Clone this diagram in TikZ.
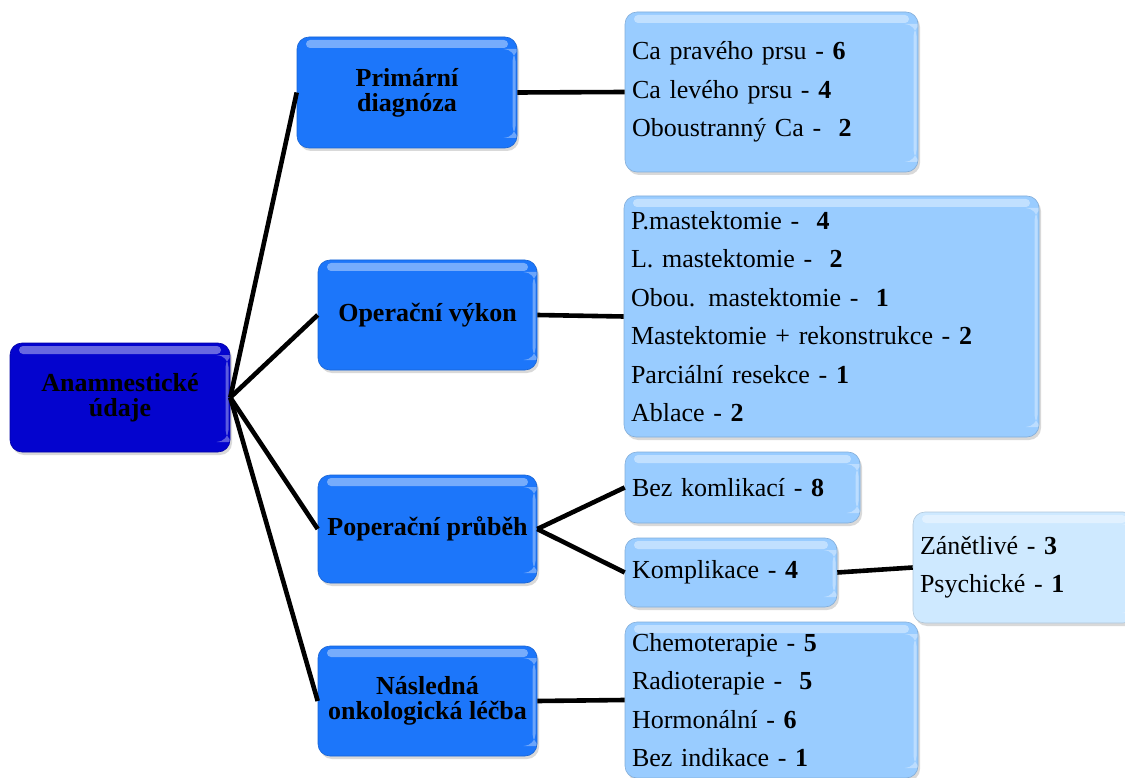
\documentclass[tikz,border=0pt]{standalone}
\usepackage{fontspec}
\setmainfont{Liberation Serif}
\usetikzlibrary{shadows,calc}

\definecolor{rootblue}{RGB}{4,4,206}
\definecolor{midblue}{RGB}{28,118,250}
\definecolor{leafblue}{RGB}{153,204,255}
\definecolor{paleblue}{RGB}{206,233,255}

\tikzset{
  x=1pt, y=-1pt,
  glossy/.style={
    rounded corners=12pt,
    drop shadow={shadow xshift=2pt, shadow yshift=-3pt, opacity=0.3},
    path picture={
      \path (path picture bounding box.north west) coordinate (gl-nw)
            (path picture bounding box.south east) coordinate (gl-se);
      \fill[white, opacity=0.4, rounded corners=4pt]
        ($(gl-nw)+(9pt,-3pt)$) rectangle ($(gl-se|-gl-nw)+(-9pt,-11pt)$);
      \fill[white, opacity=0.35]
        ($(gl-se|-gl-nw)+(-4.5pt,-12pt)$) rectangle ($(gl-se)+(-1.5pt,10pt)$);
    }
  },
  rootbox/.style={glossy, fill=rootblue, draw=rootblue!80!black, line width=0.6pt,
    minimum width=220pt, minimum height=109pt, align=center, inner sep=2pt,
    font=\fontsize{26}{25}\selectfont\bfseries},
  midbox/.style={glossy, fill=midblue, draw=midblue!85!black, line width=0.6pt,
    minimum width=219pt, minimum height=110pt, align=center, inner sep=2pt,
    font=\fontsize{26}{25}\selectfont\bfseries},
  leafbox/.style={glossy, fill=leafblue, draw=leafblue!85!black, line width=0.6pt,
    align=left, inner xsep=7pt, inner ysep=2pt,
    font=\fontsize{26}{38.5}\selectfont},
  palebox/.style={leafbox, fill=paleblue, draw=paleblue!85!black},
  link/.style={line width=4.6pt, black}
}

\begin{document}
\begin{tikzpicture}
\useasboundingbox (0,0) rectangle (1125,778);

% root
\node[rootbox] (root) at (120,397.5) {Anamnestické\\údaje};

% second level
\node[midbox, minimum width=220pt, minimum height=111pt] (prim) at (407,92.5) {Primární\\diagnóza};
\node[midbox] (oper) at (427.5,315) {Operační výkon};
\node[midbox, minimum height=108pt] (pope) at (427.5,529) {Poperační průběh};
\node[midbox] (nasl) at (427.5,701) {Následná\\onkologická léčba};

% leaves
\node[leafbox, text width=279pt, minimum height=160pt] (diag) at (771.5,92)
  {Ca pravého prsu - \textbf{6}\\
   Ca levého prsu - \textbf{4}\\
   Oboustranný Ca - \ \textbf{2}};
\node[leafbox, text width=401pt, minimum height=241pt] (vykon) at (831.5,316.5)
  {P.mastektomie - \ \textbf{4}\\
   L. mastektomie - \ \textbf{2}\\
   Obou. mastektomie - \ \textbf{1}\\
   Mastektomie + rekonstrukce - \textbf{2}\\
   Parciální resekce - \textbf{1}\\
   Ablace - \textbf{2}};
\node[leafbox, text width=221pt, minimum height=71pt] (bez) at (742.5,487.5)
  {Bez komlikací - \textbf{8}};
\node[leafbox, text width=198pt, minimum height=69pt] (kompl) at (731,572.5)
  {Komplikace - \textbf{4}};
\node[palebox, text width=208pt, minimum height=111pt] (typ) at (1024,567.5)
  {Zánětlivé - \textbf{3}\\
   Psychické - \textbf{1}};
\node[leafbox, text width=279pt, minimum height=156pt] (lecba) at (771.5,700)
  {Chemoterapie - \textbf{5}\\
   Radioterapie - \ \textbf{5}\\
   Hormonální - \textbf{6}\\
   Bez indikace - \textbf{1}};

% connectors
\draw[link] (root.east) -- (prim.west);
\draw[link] (root.east) -- (oper.west);
\draw[link] (root.east) -- (pope.west);
\draw[link] (root.east) -- (nasl.west);
\draw[link] (prim.east) -- (diag.west);
\draw[link] (oper.east) -- (vykon.west);
\draw[link] (pope.east) -- (bez.west);
\draw[link] (pope.east) -- (kompl.west);
\draw[link] (kompl.east) -- (typ.west);
\draw[link] (nasl.east) -- (lecba.west);
\end{tikzpicture}
\end{document}
